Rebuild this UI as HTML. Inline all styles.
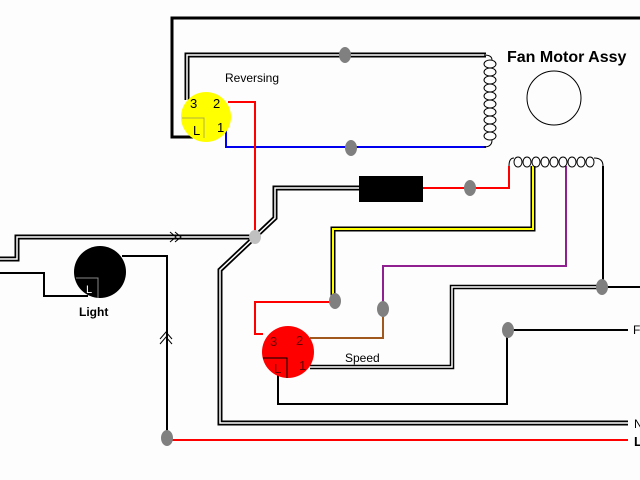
<!DOCTYPE html>
<html><head><style>body{margin:0;background:#fff}svg{display:block}</style></head><body>
<svg width="640" height="480" viewBox="0 0 640 480" xmlns="http://www.w3.org/2000/svg" font-family="Liberation Sans, sans-serif">
<rect width="640" height="480" fill="#fdfdfd"/>
<g fill="none" stroke-linejoin="miter">
<polyline points="200,137 172,137 172,18 640,18" stroke="#000" stroke-width="3"/>
<polyline points="187,100 187,55 486,55" stroke="#000" stroke-width="5"/>
<polyline points="187,100 187,55 486,55" stroke="#fff" stroke-width="1.5"/>
<polyline points="226,130 226,147 486,147" stroke="#0000ee" stroke-width="2"/>
<polyline points="228,102 255,102 255,237" stroke="#f00" stroke-width="2"/>
<polyline points="359,188 275,188 275,218 220,270 220,423 628,423" stroke="#000" stroke-width="5"/>
<polyline points="359,188 275,188 275,218 220,270 220,423 628,423" stroke="#fff" stroke-width="1.5"/>
<polyline points="0,259 17,259 17,237 255,237" stroke="#000" stroke-width="5"/>
<polyline points="0,259 17,259 17,237 255,237" stroke="#fff" stroke-width="1.5"/>
<path d="M170,232 L176,237 L170,242 M175,232 L181,237 L175,242" stroke="#000" stroke-width="1"/>
<polyline points="0,273 44,273 44,296 88,296" stroke="#000" stroke-width="2"/>
<polyline points="122,256 167,256 167,439" stroke="#000" stroke-width="2"/>
<path d="M160,344 L166,337 L172,344 M160,339 L166,332 L172,339" stroke="#000" stroke-width="1"/>
<line x1="167" y1="440" x2="628" y2="440" stroke="#f00" stroke-width="2"/>
<polyline points="423,188 509,188 509,166" stroke="#f00" stroke-width="2"/>
<polyline points="533,166 533,229 333,229 333,300" stroke="#000" stroke-width="5"/>
<polyline points="533,166 533,229 333,229 333,300" stroke="#ff0" stroke-width="2"/>
<polyline points="566,166 566,266 383,266 383,309" stroke="#902090" stroke-width="2"/>
<polyline points="603,166 603,287 640,287" stroke="#000" stroke-width="2"/>
<polyline points="602,287 452,287 452,367 310,367" stroke="#000" stroke-width="4.5"/>
<polyline points="602,287 452,287 452,367 310,367" stroke="#fff" stroke-width="1.5"/>
<polyline points="263,334 255,334 255,302 333,302" stroke="#f00" stroke-width="2"/>
<polyline points="310,338 383,338 383,309" stroke="#a0581c" stroke-width="2"/>
<polyline points="278,375 278,404 507,404 507,330 628,330" stroke="#000" stroke-width="2"/>
<!-- vertical coil -->
<g stroke="#000" stroke-width="1">
<path d="M484,55 q8,0 8,5"/>
<ellipse cx="490" cy="64" rx="6" ry="4"/>
<ellipse cx="490" cy="72" rx="6" ry="4"/>
<ellipse cx="490" cy="80" rx="6" ry="4"/>
<ellipse cx="490" cy="88" rx="6" ry="4"/>
<ellipse cx="490" cy="96" rx="6" ry="4"/>
<ellipse cx="490" cy="104" rx="6" ry="4"/>
<ellipse cx="490" cy="112" rx="6" ry="4"/>
<ellipse cx="490" cy="120" rx="6" ry="4"/>
<ellipse cx="490" cy="128" rx="6" ry="4"/>
<ellipse cx="490" cy="136" rx="6" ry="4"/>
<path d="M492,140 q0,7 -8,7"/>
</g>
<!-- horizontal coil -->
<g stroke="#000" stroke-width="1">
<path d="M509,166 q0,-8 5,-8"/>
<ellipse cx="518" cy="162" rx="4" ry="5"/>
<ellipse cx="527" cy="162" rx="4" ry="5"/>
<ellipse cx="536" cy="162" rx="4" ry="5"/>
<ellipse cx="545" cy="162" rx="4" ry="5"/>
<ellipse cx="554" cy="162" rx="4" ry="5"/>
<ellipse cx="563" cy="162" rx="4" ry="5"/>
<ellipse cx="572" cy="162" rx="4" ry="5"/>
<ellipse cx="581" cy="162" rx="4" ry="5"/>
<ellipse cx="590" cy="162" rx="4" ry="5"/>
<path d="M594,158 q9,0 9,8"/>
</g>
<circle cx="554" cy="98" r="27" stroke="#000" stroke-width="1"/>
</g>
<rect x="359" y="176" width="64" height="26" fill="#000"/>
<g fill="#808080">
<ellipse cx="345" cy="55" rx="6" ry="8"/>
<ellipse cx="351" cy="148" rx="6" ry="8"/>
<ellipse cx="470" cy="188" rx="6" ry="8"/>
<ellipse cx="255" cy="237" rx="6" ry="7" fill="#c0c0c0"/>
<ellipse cx="335" cy="301" rx="6" ry="8"/>
<ellipse cx="383" cy="309" rx="6" ry="8"/>
<ellipse cx="602" cy="287" rx="6" ry="8"/>
<ellipse cx="508" cy="330" rx="6" ry="8"/>
<ellipse cx="167" cy="438" rx="6" ry="8"/>
</g>
<circle cx="206" cy="117" r="25" fill="#ffff00"/>
<polyline points="182,118 204,118 204,138" fill="none" stroke="#b0b040" stroke-width="1"/>
<g font-size="13" fill="#000">
<text x="190" y="108">3</text><text x="213" y="108">2</text><text x="193" y="135">L</text><text x="217" y="132">1</text>
</g>
<circle cx="100" cy="272" r="26" fill="#000"/>
<polyline points="76,278 98,278 98,298" fill="none" stroke="#888" stroke-width="1"/>
<text x="86" y="293" font-size="11" fill="#fff">L</text>
<circle cx="288" cy="352" r="26" fill="#f00"/>
<polyline points="263,358 287,358 287,378" fill="none" stroke="#000" stroke-width="1"/>
<g font-size="13" fill="#600">
<text x="270" y="346">3</text><text x="296" y="345">2</text><text x="274" y="373">L</text><text x="299" y="370">1</text>
</g>
<text x="225" y="82" font-size="12">Reversing</text>
<text x="345" y="362" font-size="12">Speed</text>
<text x="507" y="62" font-size="16" font-weight="bold">Fan Motor Assy</text>
<text x="79" y="316" font-size="12" font-weight="bold">Light</text>
<text x="633" y="334" font-size="12">F</text>
<text x="634" y="428" font-size="12">N</text>
<text x="634" y="446" font-size="13" font-weight="bold">L</text>
</svg>
</body></html>
